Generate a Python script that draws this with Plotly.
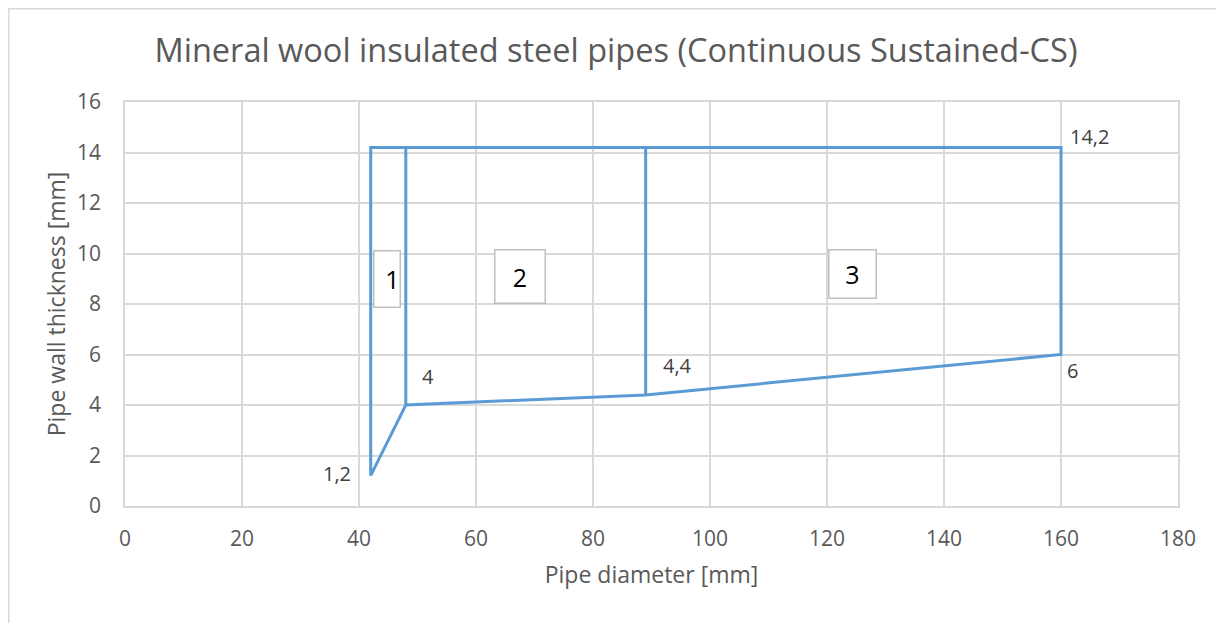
import plotly.graph_objects as go

# Data
outline_x = [42, 42, 160, 160, 89, 48, 42]
outline_y = [1.2, 14.2, 14.2, 6, 4.4, 4, 1.2]
divider1_x = [48, 48]
divider1_y = [4, 14.2]
divider2_x = [89, 89]
divider2_y = [4.4, 14.2]

label_x = [42, 48, 89, 160, 160]
label_y = [1.2, 4, 4.4, 6, 14.2]
label_text = ["1,2", "4", "4,4", "6", "14,2"]

zone_x = [44.7, 67.6, 124.3]
zone_y = [9.0, 9.07, 9.17]
zone_text = ["1", "2", "3"]

x_ticks = [0, 20, 40, 60, 80, 100, 120, 140, 160, 180]
y_ticks = [0, 2, 4, 6, 8, 10, 12, 14, 16]

FONT = "Open Sans"
LINE = "#5B9BD5"
GREY = "#595959"

# page body adds an 8px offset; figure sized to fit the window
W, H = 1216, 615
ML, MR, MT, MB = 117, 46, 94, 117
PW, PH = W - ML - MR, H - MT - MB

fig = go.Figure()
for xs, ys in [(outline_x, outline_y), (divider1_x, divider1_y), (divider2_x, divider2_y)]:
    fig.add_trace(go.Scatter(x=xs, y=ys, mode="lines",
                             line=dict(color=LINE, width=3), showlegend=False,
                             hoverinfo="skip"))

# data-label offsets (pixels)
offs = {
    "1,2": dict(xanchor="right", yanchor="middle", xshift=-18, yshift=2),
    "4": dict(xanchor="left", yanchor="middle", xshift=14, yshift=29),
    "4,4": dict(xanchor="left", yanchor="middle", xshift=15, yshift=29),
    "6": dict(xanchor="left", yanchor="middle", xshift=4, yshift=-16),
    "14,2": dict(xanchor="left", yanchor="middle", xshift=7, yshift=11),
}
for x, y, t in zip(label_x, label_y, label_text):
    fig.add_annotation(x=x, y=y, xref="x", yref="y", text=t, showarrow=False,
                       font=dict(family=FONT, size=20, color="#404040"), **offs[t])

sizes = [(27, 57, "right"), (51, 54, "center"), (48, 49, "center")]
for (x, y, t), (w, h, al) in zip(zip(zone_x, zone_y, zone_text), sizes):
    fig.add_annotation(x=x, y=y, xref="x", yref="y", text=t, showarrow=False,
                       width=w - 2, height=h - 2, align=al, valign="middle",
                       bordercolor="#BFBFBF", borderwidth=1.5, borderpad=0,
                       bgcolor="white",
                       font=dict(family=FONT, size=25, color="#000000"))

# chart frame
fig.add_shape(type="rect", xref="paper", yref="paper",
              x0=(0.8 - ML) / PW, x1=1.2, y0=-0.5, y1=1 + (MT - 0.8) / PH,
              line=dict(color="#D9D9D9", width=1.5), layer="below")

fig.update_layout(
    width=W, height=H,
    margin=dict(l=ML, r=MR, t=MT, b=MB),
    paper_bgcolor="white", plot_bgcolor="white",
    title=dict(text="Mineral wool insulated steel pipes (Continuous Sustained-CS)",
               x=0.5, xref="container", xanchor="center", y=1 - 43 / H, yanchor="middle",
               font=dict(family=FONT, size=32.5, color=GREY)),
    xaxis=dict(range=[0, 180], tickvals=x_ticks, showgrid=True, gridcolor="#D9D9D9",
               gridwidth=1.5, zeroline=False, showline=True, linecolor="#D9D9D9",
               mirror=True, linewidth=1.5, ticks="outside", ticklen=13, tickcolor="white",
               tickfont=dict(family=FONT, size=21, color=GREY),
               title=dict(text="Pipe diameter [mm]", standoff=16,
                          font=dict(family=FONT, size=23, color=GREY))),
    yaxis=dict(range=[0, 16], tickvals=y_ticks, showgrid=True, gridcolor="#D9D9D9",
               gridwidth=1.5, zeroline=False, showline=True, linecolor="#D9D9D9",
               mirror=True, linewidth=1.5, ticks="outside", ticklen=18, tickcolor="white",
               tickfont=dict(family=FONT, size=21, color=GREY),
               title=dict(text="Pipe wall thickness [mm]", standoff=5,
                          font=dict(family=FONT, size=23, color=GREY))),
)

fig.write_html("out.html")
